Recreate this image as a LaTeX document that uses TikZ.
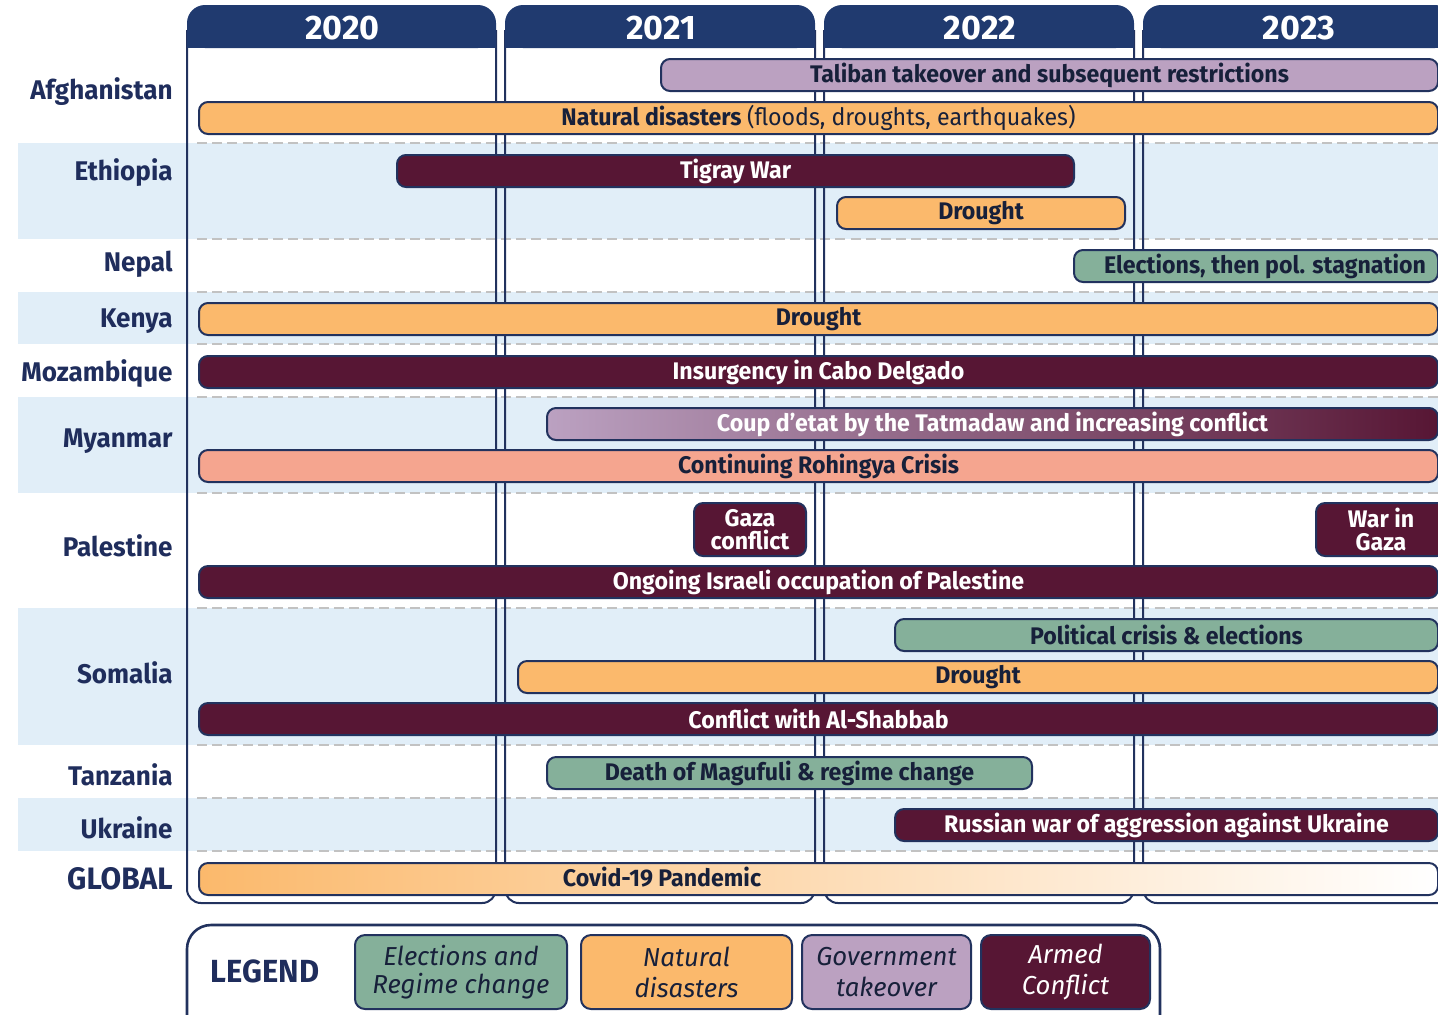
\documentclass[tikz,border=0pt]{standalone}
\usepackage{fontspec}
\setmainfont{Fira Sans}
\newfontfamily\cf{Fira Sans}[FakeStretch=0.965]
\newfontfamily\lf{Fira Sans}[FakeStretch=0.99]
\definecolor{navy}{HTML}{203A6F}
\definecolor{edge}{HTML}{22325E}
\definecolor{labtxt}{HTML}{1F2D5C}
\definecolor{txtdark}{HTML}{17203A}
\definecolor{orng}{HTML}{FBB96C}
\definecolor{lilac}{HTML}{BBA1C1}
\definecolor{maroon}{HTML}{571634}
\definecolor{grn}{HTML}{85B09A}
\definecolor{salmon}{HTML}{F5A58F}
\definecolor{rowblue}{HTML}{E1EEF8}
\definecolor{dashgray}{HTML}{C2C2C2}
\tikzset{
  bar/.style={draw=edge, line width=1pt, rounded corners=4.5pt, inner sep=0pt,
    font=\cf\bfseries\fontsize{12}{11.5}\selectfont, text=txtdark, align=center},
  orangebar/.style={bar, fill=orng},
  lilacbar/.style={bar, fill=lilac},
  maroonbar/.style={bar, fill=maroon, text=white},
  greenbar/.style={bar, fill=grn},
  salmonbar/.style={bar, fill=salmon},
  coupbar/.style={bar, left color=lilac, right color=maroon, text=white},
  covidbar/.style={bar, left color=orng, right color=white},
  lab/.style={anchor=east, font=\cf\bfseries\fontsize{13.5}{14}\selectfont, text=labtxt, inner sep=0pt},
  yearlab/.style={font=\bfseries\fontsize{17}{17}\selectfont, text=white, inner sep=0pt},
  legbox/.style={draw=edge, line width=1pt, rounded corners=5pt, inner sep=0pt,
    minimum height=37pt, align=center, font=\lf\itshape\fontsize{13}{15.5}\selectfont, text=txtdark},
  sep/.style={dashgray, line width=1pt, dash pattern=on 5pt off 2.6pt},
  colline/.style={draw=edge, line width=1pt, rounded corners=7pt}
}
\newcommand\tbar[7]{\node[#2, minimum width={(#4-#3)*0.5pt}, minimum height={#6*0.5pt}, anchor=north west] (#1) at (#3,#5) {#7};}
\begin{document}
\begin{tikzpicture}[x=0.5pt,y=-0.5pt]
\useasboundingbox (0,0) rectangle (1438,1014);
\clip (0,0) rectangle (1438,1014);
% row backgrounds
\foreach \a/\b in {143/239, 292/344, 397/493, 608/745, 798/851}
  \fill[rowblue] (18,\a) rectangle (1438,\b);
% separators
\foreach \y in {143,239,292,344,397,493,608,745,798,851}
  \draw[sep] (197,\y) -- (1438,\y);
% year columns
\foreach \L/\R/\yr in {187/496/2020, 505/815/2021, 824/1134/2022, 1143/1453/2023}{
  \draw[colline] (\L,30) -- (\L,903) -- (\R,903) -- (\R,30);
  \fill[navy, rounded corners=9pt] (\L,5) rectangle (\R,48);
  \fill[navy] (\L,30) rectangle (\R,48);
  \node[yearlab] (y\yr) at ({(\L+\R)/2+1},28) {\yr};
}
% bars
\tbar{taliban}{lilacbar}{660}{1437}{58}{32}{Taliban takeover and subsequent restrictions}
\tbar{natdis}{orangebar}{198}{1437}{101}{32}{Natural disasters {\mdseries(floods, droughts, earthquakes)}}
\tbar{tigray}{maroonbar}{396}{1073}{154}{32}{Tigray War}
\tbar{ethdrought}{orangebar}{836}{1124}{196}{32}{Drought}
\tbar{nepal}{greenbar}{1073}{1437}{249}{32}{\hspace{9pt}Elections, then pol. stagnation}
\tbar{kenya}{orangebar}{198}{1437}{302}{32}{Drought}
\tbar{moz}{maroonbar}{198}{1437}{355}{32}{Insurgency in Cabo Delgado}
\tbar{coup}{coupbar}{546}{1437}{407}{32}{Coup d’etat by the Tatmadaw and increasing conflict}
\tbar{rohingya}{salmonbar}{198}{1437}{449}{32}{Continuing Rohingya Crisis}
\tbar{gaza}{maroonbar}{693}{805}{502}{53}{Gaza\\conflict}
\tbar{wargaza}{maroonbar}{1315}{1445}{502}{53}{War in\\Gaza}
\tbar{occupation}{maroonbar}{198}{1437}{565}{32}{Ongoing Israeli occupation of Palestine}
\tbar{polcrisis}{greenbar}{894}{1437}{618}{32}{Political crisis \& elections}
\tbar{somdrought}{orangebar}{517}{1437}{660}{32}{Drought}
\tbar{shabbab}{maroonbar}{198}{1437}{702}{32}{Conflict with Al-Shabbab}
\tbar{magufuli}{greenbar}{546}{1031}{756}{32}{Death of Magufuli \& regime change}
\tbar{russia}{maroonbar}{894}{1437}{808}{32}{Russian war of aggression against Ukraine}
\tbar{covid}{covidbar}{198}{1437}{862}{32}{}
\node[font=\cf\bfseries\fontsize{12}{12}\selectfont, text=txtdark, inner sep=0pt] (covidtxt) at (662,877) {Covid-19 Pandemic};
% country labels
\node[lab] (afg) at (173,92) {Afghanistan};
\node[lab] (eth) at (173,173) {Ethiopia};
\node[lab] (nep) at (173,264) {Nepal};
\node[lab] (ken) at (173,321) {Kenya};
\node[lab] (mozl) at (173,374) {Mozambique};
\node[lab] (mya) at (173,441) {Myanmar};
\node[lab] (pal) at (173,546) {Palestine};
\node[lab] (som) at (173,673) {Somalia};
\node[lab] (tan) at (173,775) {Tanzania};
\node[lab] (ukr) at (173,828) {Ukraine};
\node[lab, font=\cf\bfseries\fontsize{15.5}{16}\selectfont] (glob) at (173,879) {GLOBAL};
% legend
\draw[draw=edge, line width=1.3pt, rounded corners=12pt] (187,925) rectangle (1160,1050);
\node[font=\cf\bfseries\fontsize{16}{16}\selectfont, text=labtxt, inner sep=0pt] (legend) at (265,971) {LEGEND};
\node[legbox, fill=grn, minimum width=106pt] (lg1) at (461,972) {\raisebox{-1.5pt}{Elections and}\\Regime change};
\node[legbox, fill=orng, minimum width=105.5pt] (lg2) at (686.5,972) {Natural\\disasters};
\node[legbox, fill=lilac, minimum width=84.5pt] (lg3) at (886.5,972) {Government\\takeover};
\node[legbox, fill=maroon, text=white, minimum width=84.5pt] (lg4) at (1065.5,972) {Armed\\Conflict};
\end{tikzpicture}
\end{document}
